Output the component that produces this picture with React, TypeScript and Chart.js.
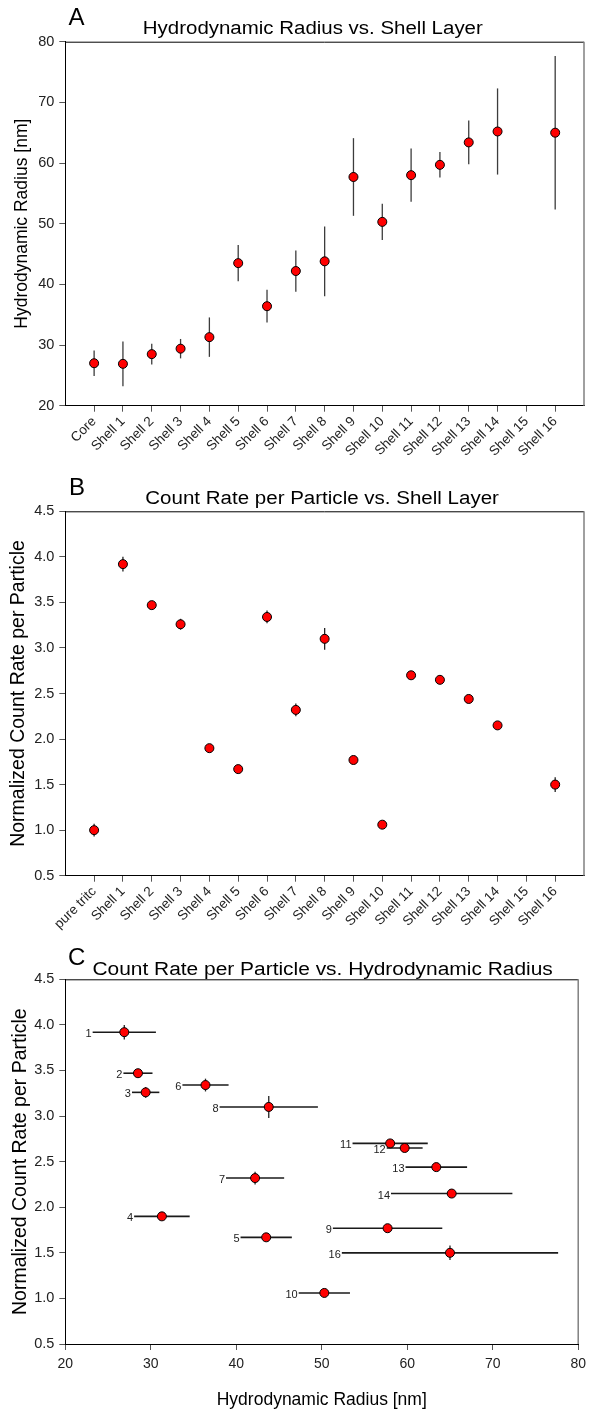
import React, { useEffect, useRef } from 'react';
import { Chart, registerables } from 'chart.js';

Chart.register(...registerables);

const FONT = "'Liberation Sans', Arial, Helvetica, sans-serif";

// ---- data ----
const labelsA = ['Core', 'Shell 1', 'Shell 2', 'Shell 3', 'Shell 4', 'Shell 5', 'Shell 6', 'Shell 7', 'Shell 8', 'Shell 9', 'Shell 10', 'Shell 11', 'Shell 12', 'Shell 13', 'Shell 14', 'Shell 15', 'Shell 16'];
const labelsB = ['pure tritc', 'Shell 1', 'Shell 2', 'Shell 3', 'Shell 4', 'Shell 5', 'Shell 6', 'Shell 7', 'Shell 8', 'Shell 9', 'Shell 10', 'Shell 11', 'Shell 12', 'Shell 13', 'Shell 14', 'Shell 15', 'Shell 16'];
const radius = [27.0, 26.9, 28.5, 29.4, 31.3, 43.5, 36.4, 42.2, 43.8, 57.7, 50.3, 58.0, 59.7, 63.4, 65.2, null, 65.0];
const radiusErr = [2.1, 3.7, 1.7, 1.6, 3.25, 3.0, 2.7, 3.4, 5.75, 6.4, 3.0, 4.4, 2.1, 3.6, 7.1, null, 12.65];
const countRate = [1.0, 3.92, 3.47, 3.26, 1.9, 1.67, 3.34, 2.32, 3.1, 1.77, 1.06, 2.7, 2.65, 2.44, 2.15, null, 1.5];
const countErr = [0.07, 0.08, 0.02, 0.06, 0.02, 0.02, 0.07, 0.07, 0.12, 0.02, 0.02, 0.02, 0.02, 0.03, 0.02, null, 0.08];
const shellNumbers = ['', '1', '2', '3', '4', '5', '6', '7', '8', '9', '10', '11', '12', '13', '14', '15', '16'];

// ---- plugins ----
const errorBars = {
  id: 'errorBars',
  beforeDatasetsDraw(chart: any, _a: any, o: any) {
    const { ctx, scales } = chart;
    const x = scales.x, y = scales.y;
    ctx.save();
    ctx.lineCap = 'butt';
    chart.data.datasets.forEach((ds: any) => {
      (ds.data as any[]).forEach((p: any) => {
        const px = x.getPixelForValue(p.x);
        const py = y.getPixelForValue(p.y);
        if (p.ex) {
          ctx.strokeStyle = o.hColor;
          ctx.lineWidth = o.hWidth;
          ctx.beginPath();
          ctx.moveTo(x.getPixelForValue(p.x - p.ex), py);
          ctx.lineTo(x.getPixelForValue(p.x + p.ex), py);
          ctx.stroke();
        }
        if (p.ey) {
          ctx.strokeStyle = o.vColor;
          ctx.lineWidth = o.vWidth;
          ctx.beginPath();
          ctx.moveTo(px, y.getPixelForValue(p.y - p.ey));
          ctx.lineTo(px, y.getPixelForValue(p.y + p.ey));
          ctx.stroke();
        }
      });
    });
    ctx.restore();
  },
  afterDatasetsDraw(chart: any, _a: any, o: any) {
    if (!o.showLabels) return;
    const { ctx, scales } = chart;
    const x = scales.x, y = scales.y;
    ctx.save();
    ctx.font = `11px ${FONT}`;
    ctx.fillStyle = '#222';
    ctx.textAlign = 'right';
    ctx.textBaseline = 'middle';
    chart.data.datasets.forEach((ds: any) => {
      (ds.data as any[]).forEach((p: any) => {
        if (!p.label) return;
        const lx = x.getPixelForValue(p.x - (p.ex || 0)) - 1;
        const ly = y.getPixelForValue(p.y) + 2;
        ctx.fillText(p.label, lx, ly);
      });
    });
    ctx.restore();
  },
};

const deco = {
  id: 'deco',
  afterDraw(chart: any, _a: any, o: any) {
    const { ctx, chartArea: a } = chart;
    ctx.save();
    ctx.strokeStyle = '#000';
    ctx.lineWidth = 1;
    ctx.beginPath();
    ctx.moveTo(a.left, a.top + 0.5);
    ctx.lineTo(a.right, a.top + 0.5);
    ctx.stroke();
    ctx.strokeStyle = '#808080';
    ctx.lineWidth = 1.5;
    ctx.beginPath();
    ctx.moveTo(a.right, a.top);
    ctx.lineTo(a.right, a.bottom);
    ctx.stroke();

    ctx.fillStyle = '#000';
    ctx.textBaseline = 'alphabetic';
    ctx.textAlign = 'left';
    ctx.font = `24px ${FONT}`;
    ctx.fillText(o.letter, o.letterX, o.letterY);

    ctx.font = `${o.titleSize}px ${FONT}`;
    const w = ctx.measureText(o.title).width;
    const sx = o.titleWidth / w;
    ctx.translate(o.titleX, o.titleY);
    ctx.scale(sx, 1);
    ctx.textAlign = 'center';
    ctx.fillText(o.title, 0, 0);
    ctx.restore();
  },
};

const gridOpts = { display: true, drawOnChartArea: false, drawTicks: true, tickLength: 6, color: '#555', lineWidth: 1 };
const borderOpts = { display: true, color: '#000', width: 1 };

function pointStyle() {
  return {
    backgroundColor: '#ff0000',
    borderColor: '#000',
    borderWidth: 1,
    pointRadius: 4.5,
    pointHoverRadius: 4.5,
    showLine: false,
  };
}

function categoryAxis(labels: string[], height: number) {
  return {
    type: 'linear',
    min: -1,
    max: 17,
    afterBuildTicks: (s: any) => {
      s.ticks = labels.map((_, i) => ({ value: i }));
    },
    afterFit: (s: any) => {
      s.height = height;
    },
    ticks: {
      autoSkip: false,
      minRotation: 45,
      maxRotation: 45,
      padding: 2,
      color: '#222',
      font: { family: FONT, size: 13.5 },
      callback: (v: any) => labels[v],
    },
    grid: gridOpts,
    border: borderOpts,
  };
}

function yAxis(min: number, max: number, step: number, title: string, titleSize: number, titlePad: number, decimals: number) {
  return {
    type: 'linear',
    min,
    max,
    afterFit: (s: any) => {
      s.width = 65.3;
    },
    ticks: {
      stepSize: step,
      padding: 5,
      color: '#222',
      font: { family: FONT, size: 14.5 },
      callback: (v: any) => Number(v).toFixed(decimals),
    },
    title: {
      display: true,
      text: title,
      color: '#000',
      font: { family: FONT, size: titleSize, lineHeight: 1.2 },
      padding: { top: titlePad, bottom: 0 },
    },
    grid: gridOpts,
    border: borderOpts,
  };
}

function configA(): any {
  const pts = radius
    .map((v, i) => (v == null ? null : { x: i, y: v, ey: radiusErr[i] }))
    .filter(Boolean);
  return {
    type: 'scatter',
    data: { datasets: [{ data: pts, ...pointStyle() }] },
    plugins: [errorBars, deco],
    options: {
      responsive: false,
      animation: false,
      devicePixelRatio: 1,
      layout: { padding: { left: 0, right: 8, top: 41.7, bottom: 0 } },
      plugins: {
        legend: { display: false },
        tooltip: { enabled: false },
        errorBars: { vColor: '#3c3c3c', vWidth: 1.3, hColor: '#222', hWidth: 1.6, showLabels: false },
        deco: { letter: 'A', letterX: 68.5, letterY: 25, title: 'Hydrodynamic Radius vs. Shell Layer', titleSize: 18, titleX: 312.8, titleY: 34.3, titleWidth: 340 },
      },
      scales: {
        x: categoryAxis(labelsA, 64.3),
        y: yAxis(20, 80, 10, 'Hydrodynamic Radius [nm]', 17.5, 12, 0),
      },
    },
  };
}

function configB(): any {
  const pts = countRate
    .map((v, i) => (v == null ? null : { x: i, y: v, ey: countErr[i] }))
    .filter(Boolean);
  return {
    type: 'scatter',
    data: { datasets: [{ data: pts, ...pointStyle() }] },
    plugins: [errorBars, deco],
    options: {
      responsive: false,
      animation: false,
      devicePixelRatio: 1,
      layout: { padding: { left: 0, right: 8, top: 41.3, bottom: 0 } },
      plugins: {
        legend: { display: false },
        tooltip: { enabled: false },
        errorBars: { vColor: '#222', vWidth: 1.3, hColor: '#222', hWidth: 1.6, showLabels: false },
        deco: { letter: 'B', letterX: 69, letterY: 25, title: 'Count Rate per Particle vs. Shell Layer', titleSize: 18, titleX: 322.1, titleY: 34.3, titleWidth: 353.6 },
      },
      scales: {
        x: categoryAxis(labelsB, 74.3),
        y: yAxis(0.5, 4.5, 0.5, 'Normalized Count Rate per Particle', 19.5, 6.5, 1),
      },
    },
  };
}

function configC(): any {
  const pts = radius
    .map((v, i) =>
      i === 0 || v == null || countRate[i] == null
        ? null
        : { x: v, y: countRate[i] as number, ex: radiusErr[i], ey: countErr[i], label: shellNumbers[i] }
    )
    .filter(Boolean);
  return {
    type: 'scatter',
    data: { datasets: [{ data: pts, ...pointStyle() }] },
    plugins: [errorBars, deco],
    options: {
      responsive: false,
      animation: false,
      devicePixelRatio: 1,
      layout: { padding: { left: 0, right: 8, top: 49.3, bottom: 0 } },
      plugins: {
        legend: { display: false },
        tooltip: { enabled: false },
        errorBars: { vColor: '#222', vWidth: 1.3, hColor: '#1a1a1a', hWidth: 1.6, showLabels: true },
        deco: { letter: 'C', letterX: 68, letterY: 35, title: 'Count Rate per Particle vs. Hydrodynamic Radius', titleSize: 18, titleX: 322.6, titleY: 45, titleWidth: 460.3 },
      },
      scales: {
        x: {
          type: 'linear',
          min: 20,
          max: 80,
          afterFit: (s: any) => {
            s.height = 68;
          },
          ticks: {
            stepSize: 10,
            padding: 6,
            maxRotation: 0,
            color: '#222',
            font: { family: FONT, size: 14 },
          },
          title: {
            display: true,
            text: 'Hydrodynamic Radius [nm]',
            color: '#000',
            font: { family: FONT, size: 17.5, lineHeight: 1.2 },
            padding: { top: 0, bottom: 1.5 },
          },
          grid: gridOpts,
          border: borderOpts,
        },
        y: yAxis(0.5, 4.5, 0.5, 'Normalized Count Rate per Particle', 19.5, 8.7, 1),
      },
    },
  };
}

export default function App() {
  const refA = useRef<HTMLCanvasElement>(null);
  const refB = useRef<HTMLCanvasElement>(null);
  const refC = useRef<HTMLCanvasElement>(null);

  useEffect(() => {
    const charts = [
      new Chart(refA.current as HTMLCanvasElement, configA()),
      new Chart(refB.current as HTMLCanvasElement, configB()),
      new Chart(refC.current as HTMLCanvasElement, configC()),
    ];
    return () => charts.forEach((c) => c.destroy());
  }, []);

  const cs = (top: number, h: number): React.CSSProperties => ({
    position: 'absolute',
    left: 0,
    top,
    width: 592,
    height: h,
    display: 'block',
  });

  return (
    <div style={{ position: 'absolute', left: 0, top: 0, width: 592, height: 1412, background: '#fff', overflow: 'hidden' }}>
      <canvas ref={refA} width={592} height={470} style={cs(0, 470)} />
      <canvas ref={refB} width={592} height={480} style={cs(470, 480)} />
      <canvas ref={refC} width={592} height={482} style={cs(930, 482)} />
    </div>
  );
}
